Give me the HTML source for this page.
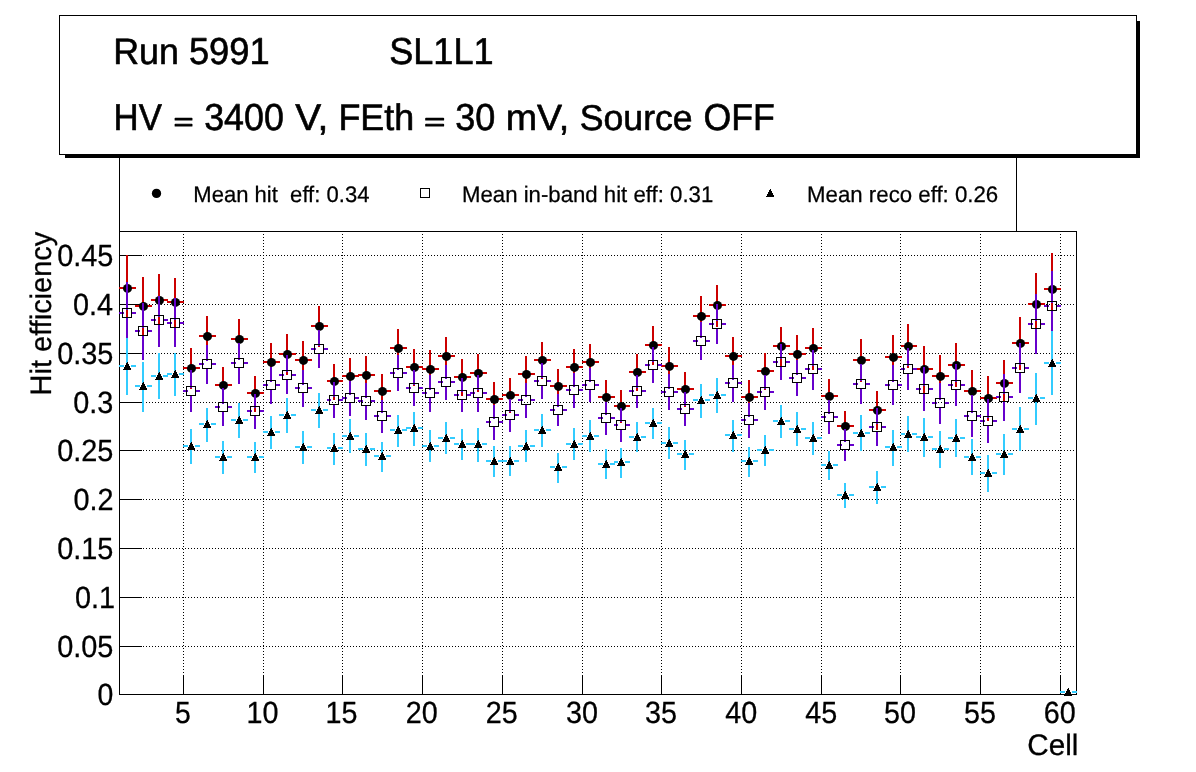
<!DOCTYPE html>
<html lang="en"><head><meta charset="utf-8"><title>Hit efficiency - Run 5991 SL1L1</title>
<style>
html,body{margin:0;padding:0;background:#fff;}
body{width:1196px;height:772px;overflow:hidden;}
svg{display:block;}
text{font-family:"Liberation Sans", sans-serif;fill:#000;text-rendering:geometricPrecision;}
.ce{shape-rendering:crispEdges;}
</style></head><body>
<svg width="1196" height="772" viewBox="0 0 1196 772">
<rect x="0" y="0" width="1196" height="772" fill="#fff"/>

<g class="ce">
<rect x="119" y="100" width="1" height="132" fill="#000"/>
<rect x="1016" y="100" width="1" height="132" fill="#000"/>
<rect x="119" y="231" width="958" height="1" fill="#000"/>
<rect x="119" y="694" width="958" height="1" fill="#000"/>
<rect x="119" y="231" width="1" height="464" fill="#000"/>
<rect x="1076" y="231" width="1" height="464" fill="#000"/>
<line x1="119" x2="1076" y1="255.5" y2="255.5" stroke="#000" stroke-width="1" stroke-dasharray="1 2" stroke-dashoffset="0"/>
<rect x="119" y="255" width="23" height="1" fill="#000"/>
<line x1="119" x2="1076" y1="304.5" y2="304.5" stroke="#000" stroke-width="1" stroke-dasharray="1 2" stroke-dashoffset="0"/>
<rect x="119" y="304" width="23" height="1" fill="#000"/>
<line x1="119" x2="1076" y1="353.5" y2="353.5" stroke="#000" stroke-width="1" stroke-dasharray="1 2" stroke-dashoffset="0"/>
<rect x="119" y="353" width="23" height="1" fill="#000"/>
<line x1="119" x2="1076" y1="402.5" y2="402.5" stroke="#000" stroke-width="1" stroke-dasharray="1 2" stroke-dashoffset="0"/>
<rect x="119" y="402" width="23" height="1" fill="#000"/>
<line x1="119" x2="1076" y1="450.5" y2="450.5" stroke="#000" stroke-width="1" stroke-dasharray="1 2" stroke-dashoffset="0"/>
<rect x="119" y="450" width="23" height="1" fill="#000"/>
<line x1="119" x2="1076" y1="499.5" y2="499.5" stroke="#000" stroke-width="1" stroke-dasharray="1 2" stroke-dashoffset="0"/>
<rect x="119" y="499" width="23" height="1" fill="#000"/>
<line x1="119" x2="1076" y1="548.5" y2="548.5" stroke="#000" stroke-width="1" stroke-dasharray="1 2" stroke-dashoffset="0"/>
<rect x="119" y="548" width="23" height="1" fill="#000"/>
<line x1="119" x2="1076" y1="597.5" y2="597.5" stroke="#000" stroke-width="1" stroke-dasharray="1 2" stroke-dashoffset="0"/>
<rect x="119" y="597" width="23" height="1" fill="#000"/>
<line x1="119" x2="1076" y1="646.5" y2="646.5" stroke="#000" stroke-width="1" stroke-dasharray="1 2" stroke-dashoffset="0"/>
<rect x="119" y="646" width="23" height="1" fill="#000"/>
<line x1="183.5" x2="183.5" y1="231" y2="694" stroke="#000" stroke-width="1" stroke-dasharray="1 2" stroke-dashoffset="0"/>
<rect x="183" y="675" width="1" height="20" fill="#000"/>
<line x1="263.5" x2="263.5" y1="231" y2="694" stroke="#000" stroke-width="1" stroke-dasharray="1 2" stroke-dashoffset="0"/>
<rect x="263" y="675" width="1" height="20" fill="#000"/>
<line x1="342.5" x2="342.5" y1="231" y2="694" stroke="#000" stroke-width="1" stroke-dasharray="1 2" stroke-dashoffset="0"/>
<rect x="342" y="675" width="1" height="20" fill="#000"/>
<line x1="422.5" x2="422.5" y1="231" y2="694" stroke="#000" stroke-width="1" stroke-dasharray="1 2" stroke-dashoffset="0"/>
<rect x="422" y="675" width="1" height="20" fill="#000"/>
<line x1="502.5" x2="502.5" y1="231" y2="694" stroke="#000" stroke-width="1" stroke-dasharray="1 2" stroke-dashoffset="0"/>
<rect x="502" y="675" width="1" height="20" fill="#000"/>
<line x1="582.5" x2="582.5" y1="231" y2="694" stroke="#000" stroke-width="1" stroke-dasharray="1 2" stroke-dashoffset="0"/>
<rect x="582" y="675" width="1" height="20" fill="#000"/>
<line x1="661.5" x2="661.5" y1="231" y2="694" stroke="#000" stroke-width="1" stroke-dasharray="1 2" stroke-dashoffset="0"/>
<rect x="661" y="675" width="1" height="20" fill="#000"/>
<line x1="741.5" x2="741.5" y1="231" y2="694" stroke="#000" stroke-width="1" stroke-dasharray="1 2" stroke-dashoffset="0"/>
<rect x="741" y="675" width="1" height="20" fill="#000"/>
<line x1="821.5" x2="821.5" y1="231" y2="694" stroke="#000" stroke-width="1" stroke-dasharray="1 2" stroke-dashoffset="0"/>
<rect x="821" y="675" width="1" height="20" fill="#000"/>
<line x1="900.5" x2="900.5" y1="231" y2="694" stroke="#000" stroke-width="1" stroke-dasharray="1 2" stroke-dashoffset="0"/>
<rect x="900" y="675" width="1" height="20" fill="#000"/>
<line x1="980.5" x2="980.5" y1="231" y2="694" stroke="#000" stroke-width="1" stroke-dasharray="1 2" stroke-dashoffset="0"/>
<rect x="980" y="675" width="1" height="20" fill="#000"/>
<line x1="1060.5" x2="1060.5" y1="231" y2="694" stroke="#000" stroke-width="1" stroke-dasharray="1 2" stroke-dashoffset="0"/>
<rect x="1060" y="675" width="1" height="20" fill="#000"/>
</g>
<g class="ce">
<rect x="119" y="287" width="5" height="2" fill="#cc0000"/>
<rect x="131" y="287" width="5" height="2" fill="#cc0000"/>
<rect x="126" y="255" width="2" height="30" fill="#cc0000"/>
<rect x="126" y="292" width="2" height="30" fill="#cc0000"/>
<rect x="135" y="305" width="5" height="2" fill="#cc0000"/>
<rect x="147" y="305" width="5" height="2" fill="#cc0000"/>
<rect x="142" y="277" width="2" height="26" fill="#cc0000"/>
<rect x="142" y="310" width="2" height="26" fill="#cc0000"/>
<rect x="151" y="299" width="5" height="2" fill="#cc0000"/>
<rect x="163" y="299" width="5" height="2" fill="#cc0000"/>
<rect x="158" y="274" width="2" height="23" fill="#cc0000"/>
<rect x="158" y="304" width="2" height="22" fill="#cc0000"/>
<rect x="167" y="301" width="5" height="2" fill="#cc0000"/>
<rect x="179" y="301" width="5" height="2" fill="#cc0000"/>
<rect x="174" y="278" width="2" height="21" fill="#cc0000"/>
<rect x="174" y="306" width="2" height="22" fill="#cc0000"/>
<rect x="183" y="367" width="5" height="2" fill="#cc0000"/>
<rect x="195" y="367" width="5" height="2" fill="#cc0000"/>
<rect x="190" y="348" width="2" height="17" fill="#cc0000"/>
<rect x="190" y="372" width="2" height="17" fill="#cc0000"/>
<rect x="199" y="335" width="5" height="2" fill="#cc0000"/>
<rect x="211" y="335" width="5" height="2" fill="#cc0000"/>
<rect x="206" y="316" width="2" height="17" fill="#cc0000"/>
<rect x="206" y="340" width="2" height="17" fill="#cc0000"/>
<rect x="215" y="384" width="5" height="2" fill="#cc0000"/>
<rect x="227" y="384" width="5" height="2" fill="#cc0000"/>
<rect x="222" y="367" width="2" height="15" fill="#cc0000"/>
<rect x="222" y="389" width="2" height="15" fill="#cc0000"/>
<rect x="231" y="338" width="5" height="2" fill="#cc0000"/>
<rect x="243" y="338" width="5" height="2" fill="#cc0000"/>
<rect x="238" y="319" width="2" height="17" fill="#cc0000"/>
<rect x="238" y="343" width="2" height="17" fill="#cc0000"/>
<rect x="247" y="392" width="5" height="2" fill="#cc0000"/>
<rect x="259" y="392" width="5" height="2" fill="#cc0000"/>
<rect x="254" y="376" width="2" height="14" fill="#cc0000"/>
<rect x="254" y="397" width="2" height="15" fill="#cc0000"/>
<rect x="263" y="361" width="5" height="2" fill="#cc0000"/>
<rect x="275" y="361" width="5" height="2" fill="#cc0000"/>
<rect x="270" y="343" width="2" height="16" fill="#cc0000"/>
<rect x="270" y="366" width="2" height="16" fill="#cc0000"/>
<rect x="279" y="353" width="5" height="2" fill="#cc0000"/>
<rect x="291" y="353" width="5" height="2" fill="#cc0000"/>
<rect x="286" y="334" width="2" height="17" fill="#cc0000"/>
<rect x="286" y="358" width="2" height="17" fill="#cc0000"/>
<rect x="295" y="359" width="5" height="2" fill="#cc0000"/>
<rect x="307" y="359" width="5" height="2" fill="#cc0000"/>
<rect x="302" y="341" width="2" height="16" fill="#cc0000"/>
<rect x="302" y="364" width="2" height="16" fill="#cc0000"/>
<rect x="311" y="325" width="5" height="2" fill="#cc0000"/>
<rect x="323" y="325" width="5" height="2" fill="#cc0000"/>
<rect x="318" y="306" width="2" height="17" fill="#cc0000"/>
<rect x="318" y="330" width="2" height="17" fill="#cc0000"/>
<rect x="327" y="380" width="4" height="2" fill="#cc0000"/>
<rect x="338" y="380" width="5" height="2" fill="#cc0000"/>
<rect x="333" y="364" width="2" height="14" fill="#cc0000"/>
<rect x="333" y="385" width="2" height="15" fill="#cc0000"/>
<rect x="342" y="375" width="5" height="2" fill="#cc0000"/>
<rect x="354" y="375" width="5" height="2" fill="#cc0000"/>
<rect x="349" y="358" width="2" height="15" fill="#cc0000"/>
<rect x="349" y="380" width="2" height="15" fill="#cc0000"/>
<rect x="358" y="374" width="5" height="2" fill="#cc0000"/>
<rect x="370" y="374" width="5" height="2" fill="#cc0000"/>
<rect x="365" y="356" width="2" height="16" fill="#cc0000"/>
<rect x="365" y="379" width="2" height="17" fill="#cc0000"/>
<rect x="374" y="390" width="5" height="2" fill="#cc0000"/>
<rect x="386" y="390" width="5" height="2" fill="#cc0000"/>
<rect x="381" y="374" width="2" height="14" fill="#cc0000"/>
<rect x="381" y="395" width="2" height="14" fill="#cc0000"/>
<rect x="390" y="347" width="5" height="2" fill="#cc0000"/>
<rect x="402" y="347" width="5" height="2" fill="#cc0000"/>
<rect x="397" y="329" width="2" height="16" fill="#cc0000"/>
<rect x="397" y="352" width="2" height="16" fill="#cc0000"/>
<rect x="406" y="366" width="5" height="2" fill="#cc0000"/>
<rect x="418" y="366" width="5" height="2" fill="#cc0000"/>
<rect x="413" y="349" width="2" height="15" fill="#cc0000"/>
<rect x="413" y="371" width="2" height="15" fill="#cc0000"/>
<rect x="422" y="368" width="5" height="2" fill="#cc0000"/>
<rect x="434" y="368" width="5" height="2" fill="#cc0000"/>
<rect x="429" y="350" width="2" height="16" fill="#cc0000"/>
<rect x="429" y="373" width="2" height="16" fill="#cc0000"/>
<rect x="438" y="355" width="5" height="2" fill="#cc0000"/>
<rect x="450" y="355" width="5" height="2" fill="#cc0000"/>
<rect x="445" y="337" width="2" height="16" fill="#cc0000"/>
<rect x="445" y="360" width="2" height="16" fill="#cc0000"/>
<rect x="454" y="376" width="5" height="2" fill="#cc0000"/>
<rect x="466" y="376" width="5" height="2" fill="#cc0000"/>
<rect x="461" y="359" width="2" height="15" fill="#cc0000"/>
<rect x="461" y="381" width="2" height="15" fill="#cc0000"/>
<rect x="470" y="372" width="5" height="2" fill="#cc0000"/>
<rect x="482" y="372" width="5" height="2" fill="#cc0000"/>
<rect x="477" y="354" width="2" height="16" fill="#cc0000"/>
<rect x="477" y="377" width="2" height="15" fill="#cc0000"/>
<rect x="486" y="398" width="5" height="2" fill="#cc0000"/>
<rect x="498" y="398" width="5" height="2" fill="#cc0000"/>
<rect x="493" y="382" width="2" height="14" fill="#cc0000"/>
<rect x="493" y="403" width="2" height="14" fill="#cc0000"/>
<rect x="502" y="394" width="5" height="2" fill="#cc0000"/>
<rect x="514" y="394" width="5" height="2" fill="#cc0000"/>
<rect x="509" y="378" width="2" height="14" fill="#cc0000"/>
<rect x="509" y="399" width="2" height="14" fill="#cc0000"/>
<rect x="518" y="373" width="5" height="2" fill="#cc0000"/>
<rect x="530" y="373" width="5" height="2" fill="#cc0000"/>
<rect x="525" y="356" width="2" height="15" fill="#cc0000"/>
<rect x="525" y="378" width="2" height="15" fill="#cc0000"/>
<rect x="534" y="359" width="5" height="2" fill="#cc0000"/>
<rect x="546" y="359" width="5" height="2" fill="#cc0000"/>
<rect x="541" y="342" width="2" height="15" fill="#cc0000"/>
<rect x="541" y="364" width="2" height="15" fill="#cc0000"/>
<rect x="550" y="385" width="5" height="2" fill="#cc0000"/>
<rect x="562" y="385" width="5" height="2" fill="#cc0000"/>
<rect x="557" y="369" width="2" height="14" fill="#cc0000"/>
<rect x="557" y="390" width="2" height="14" fill="#cc0000"/>
<rect x="566" y="366" width="5" height="2" fill="#cc0000"/>
<rect x="578" y="366" width="5" height="2" fill="#cc0000"/>
<rect x="573" y="349" width="2" height="15" fill="#cc0000"/>
<rect x="573" y="371" width="2" height="15" fill="#cc0000"/>
<rect x="582" y="361" width="5" height="2" fill="#cc0000"/>
<rect x="594" y="361" width="5" height="2" fill="#cc0000"/>
<rect x="589" y="344" width="2" height="15" fill="#cc0000"/>
<rect x="589" y="366" width="2" height="15" fill="#cc0000"/>
<rect x="598" y="396" width="5" height="2" fill="#cc0000"/>
<rect x="610" y="396" width="5" height="2" fill="#cc0000"/>
<rect x="605" y="380" width="2" height="14" fill="#cc0000"/>
<rect x="605" y="401" width="2" height="14" fill="#cc0000"/>
<rect x="614" y="405" width="4" height="2" fill="#cc0000"/>
<rect x="625" y="405" width="5" height="2" fill="#cc0000"/>
<rect x="620" y="390" width="2" height="13" fill="#cc0000"/>
<rect x="620" y="410" width="2" height="13" fill="#cc0000"/>
<rect x="629" y="371" width="5" height="2" fill="#cc0000"/>
<rect x="641" y="371" width="5" height="2" fill="#cc0000"/>
<rect x="636" y="354" width="2" height="15" fill="#cc0000"/>
<rect x="636" y="376" width="2" height="15" fill="#cc0000"/>
<rect x="645" y="344" width="5" height="2" fill="#cc0000"/>
<rect x="657" y="344" width="5" height="2" fill="#cc0000"/>
<rect x="652" y="326" width="2" height="16" fill="#cc0000"/>
<rect x="652" y="349" width="2" height="16" fill="#cc0000"/>
<rect x="661" y="365" width="5" height="2" fill="#cc0000"/>
<rect x="673" y="365" width="5" height="2" fill="#cc0000"/>
<rect x="668" y="347" width="2" height="16" fill="#cc0000"/>
<rect x="668" y="370" width="2" height="16" fill="#cc0000"/>
<rect x="677" y="388" width="5" height="2" fill="#cc0000"/>
<rect x="689" y="388" width="5" height="2" fill="#cc0000"/>
<rect x="684" y="372" width="2" height="14" fill="#cc0000"/>
<rect x="684" y="393" width="2" height="14" fill="#cc0000"/>
<rect x="693" y="315" width="5" height="2" fill="#cc0000"/>
<rect x="705" y="315" width="5" height="2" fill="#cc0000"/>
<rect x="700" y="296" width="2" height="17" fill="#cc0000"/>
<rect x="700" y="320" width="2" height="18" fill="#cc0000"/>
<rect x="709" y="304" width="5" height="2" fill="#cc0000"/>
<rect x="721" y="304" width="5" height="2" fill="#cc0000"/>
<rect x="716" y="285" width="2" height="17" fill="#cc0000"/>
<rect x="716" y="309" width="2" height="18" fill="#cc0000"/>
<rect x="725" y="355" width="5" height="2" fill="#cc0000"/>
<rect x="737" y="355" width="5" height="2" fill="#cc0000"/>
<rect x="732" y="337" width="2" height="16" fill="#cc0000"/>
<rect x="732" y="360" width="2" height="16" fill="#cc0000"/>
<rect x="741" y="396" width="5" height="2" fill="#cc0000"/>
<rect x="753" y="396" width="5" height="2" fill="#cc0000"/>
<rect x="748" y="380" width="2" height="14" fill="#cc0000"/>
<rect x="748" y="401" width="2" height="14" fill="#cc0000"/>
<rect x="757" y="370" width="5" height="2" fill="#cc0000"/>
<rect x="769" y="370" width="5" height="2" fill="#cc0000"/>
<rect x="764" y="353" width="2" height="15" fill="#cc0000"/>
<rect x="764" y="375" width="2" height="15" fill="#cc0000"/>
<rect x="773" y="345" width="5" height="2" fill="#cc0000"/>
<rect x="785" y="345" width="5" height="2" fill="#cc0000"/>
<rect x="780" y="327" width="2" height="16" fill="#cc0000"/>
<rect x="780" y="350" width="2" height="16" fill="#cc0000"/>
<rect x="789" y="353" width="5" height="2" fill="#cc0000"/>
<rect x="801" y="353" width="5" height="2" fill="#cc0000"/>
<rect x="796" y="335" width="2" height="16" fill="#cc0000"/>
<rect x="796" y="358" width="2" height="16" fill="#cc0000"/>
<rect x="805" y="347" width="5" height="2" fill="#cc0000"/>
<rect x="817" y="347" width="5" height="2" fill="#cc0000"/>
<rect x="812" y="328" width="2" height="17" fill="#cc0000"/>
<rect x="812" y="352" width="2" height="18" fill="#cc0000"/>
<rect x="821" y="395" width="5" height="2" fill="#cc0000"/>
<rect x="833" y="395" width="5" height="2" fill="#cc0000"/>
<rect x="828" y="379" width="2" height="14" fill="#cc0000"/>
<rect x="828" y="400" width="2" height="14" fill="#cc0000"/>
<rect x="837" y="425" width="5" height="2" fill="#cc0000"/>
<rect x="849" y="425" width="5" height="2" fill="#cc0000"/>
<rect x="844" y="411" width="2" height="12" fill="#cc0000"/>
<rect x="844" y="430" width="2" height="12" fill="#cc0000"/>
<rect x="853" y="359" width="5" height="2" fill="#cc0000"/>
<rect x="865" y="359" width="5" height="2" fill="#cc0000"/>
<rect x="860" y="339" width="2" height="18" fill="#cc0000"/>
<rect x="860" y="364" width="2" height="18" fill="#cc0000"/>
<rect x="869" y="409" width="5" height="2" fill="#cc0000"/>
<rect x="881" y="409" width="5" height="2" fill="#cc0000"/>
<rect x="876" y="391" width="2" height="16" fill="#cc0000"/>
<rect x="876" y="414" width="2" height="16" fill="#cc0000"/>
<rect x="885" y="356" width="5" height="2" fill="#cc0000"/>
<rect x="897" y="356" width="5" height="2" fill="#cc0000"/>
<rect x="892" y="335" width="2" height="19" fill="#cc0000"/>
<rect x="892" y="361" width="2" height="19" fill="#cc0000"/>
<rect x="901" y="345" width="4" height="2" fill="#cc0000"/>
<rect x="912" y="345" width="5" height="2" fill="#cc0000"/>
<rect x="907" y="324" width="2" height="19" fill="#cc0000"/>
<rect x="907" y="350" width="2" height="18" fill="#cc0000"/>
<rect x="916" y="368" width="5" height="2" fill="#cc0000"/>
<rect x="928" y="368" width="5" height="2" fill="#cc0000"/>
<rect x="923" y="346" width="2" height="20" fill="#cc0000"/>
<rect x="923" y="373" width="2" height="20" fill="#cc0000"/>
<rect x="932" y="375" width="5" height="2" fill="#cc0000"/>
<rect x="944" y="375" width="5" height="2" fill="#cc0000"/>
<rect x="939" y="355" width="2" height="18" fill="#cc0000"/>
<rect x="939" y="380" width="2" height="18" fill="#cc0000"/>
<rect x="948" y="364" width="5" height="2" fill="#cc0000"/>
<rect x="960" y="364" width="5" height="2" fill="#cc0000"/>
<rect x="955" y="343" width="2" height="19" fill="#cc0000"/>
<rect x="955" y="369" width="2" height="18" fill="#cc0000"/>
<rect x="964" y="390" width="5" height="2" fill="#cc0000"/>
<rect x="976" y="390" width="5" height="2" fill="#cc0000"/>
<rect x="971" y="370" width="2" height="18" fill="#cc0000"/>
<rect x="971" y="395" width="2" height="17" fill="#cc0000"/>
<rect x="980" y="397" width="5" height="2" fill="#cc0000"/>
<rect x="992" y="397" width="5" height="2" fill="#cc0000"/>
<rect x="987" y="376" width="2" height="19" fill="#cc0000"/>
<rect x="987" y="402" width="2" height="19" fill="#cc0000"/>
<rect x="996" y="382" width="5" height="2" fill="#cc0000"/>
<rect x="1008" y="382" width="5" height="2" fill="#cc0000"/>
<rect x="1003" y="360" width="2" height="20" fill="#cc0000"/>
<rect x="1003" y="387" width="2" height="19" fill="#cc0000"/>
<rect x="1012" y="342" width="5" height="2" fill="#cc0000"/>
<rect x="1024" y="342" width="5" height="2" fill="#cc0000"/>
<rect x="1019" y="317" width="2" height="23" fill="#cc0000"/>
<rect x="1019" y="347" width="2" height="23" fill="#cc0000"/>
<rect x="1028" y="303" width="5" height="2" fill="#cc0000"/>
<rect x="1040" y="303" width="5" height="2" fill="#cc0000"/>
<rect x="1035" y="273" width="2" height="28" fill="#cc0000"/>
<rect x="1035" y="308" width="2" height="27" fill="#cc0000"/>
<rect x="1044" y="288" width="5" height="2" fill="#cc0000"/>
<rect x="1056" y="288" width="5" height="2" fill="#cc0000"/>
<rect x="1051" y="253" width="2" height="33" fill="#cc0000"/>
<rect x="1051" y="293" width="2" height="33" fill="#cc0000"/>
</g><g>
<circle cx="127.5" cy="288.4" r="4.5" fill="#000"/>
<circle cx="143.5" cy="306.4" r="4.5" fill="#000"/>
<circle cx="159.5" cy="300.4" r="4.5" fill="#000"/>
<circle cx="175.5" cy="302.4" r="4.5" fill="#000"/>
<circle cx="191.5" cy="368.4" r="4.5" fill="#000"/>
<circle cx="207.5" cy="336.4" r="4.5" fill="#000"/>
<circle cx="223.5" cy="385.4" r="4.5" fill="#000"/>
<circle cx="239.5" cy="339.4" r="4.5" fill="#000"/>
<circle cx="255.5" cy="393.4" r="4.5" fill="#000"/>
<circle cx="271.5" cy="362.4" r="4.5" fill="#000"/>
<circle cx="287.5" cy="354.4" r="4.5" fill="#000"/>
<circle cx="303.5" cy="360.4" r="4.5" fill="#000"/>
<circle cx="319.5" cy="326.4" r="4.5" fill="#000"/>
<circle cx="334.5" cy="381.4" r="4.5" fill="#000"/>
<circle cx="350.5" cy="376.4" r="4.5" fill="#000"/>
<circle cx="366.5" cy="375.4" r="4.5" fill="#000"/>
<circle cx="382.5" cy="391.4" r="4.5" fill="#000"/>
<circle cx="398.5" cy="348.4" r="4.5" fill="#000"/>
<circle cx="414.5" cy="367.4" r="4.5" fill="#000"/>
<circle cx="430.5" cy="369.4" r="4.5" fill="#000"/>
<circle cx="446.5" cy="356.4" r="4.5" fill="#000"/>
<circle cx="462.5" cy="377.4" r="4.5" fill="#000"/>
<circle cx="478.5" cy="373.4" r="4.5" fill="#000"/>
<circle cx="494.5" cy="399.4" r="4.5" fill="#000"/>
<circle cx="510.5" cy="395.4" r="4.5" fill="#000"/>
<circle cx="526.5" cy="374.4" r="4.5" fill="#000"/>
<circle cx="542.5" cy="360.4" r="4.5" fill="#000"/>
<circle cx="558.5" cy="386.4" r="4.5" fill="#000"/>
<circle cx="574.5" cy="367.4" r="4.5" fill="#000"/>
<circle cx="590.5" cy="362.4" r="4.5" fill="#000"/>
<circle cx="606.5" cy="397.4" r="4.5" fill="#000"/>
<circle cx="621.5" cy="406.4" r="4.5" fill="#000"/>
<circle cx="637.5" cy="372.4" r="4.5" fill="#000"/>
<circle cx="653.5" cy="345.4" r="4.5" fill="#000"/>
<circle cx="669.5" cy="366.4" r="4.5" fill="#000"/>
<circle cx="685.5" cy="389.4" r="4.5" fill="#000"/>
<circle cx="701.5" cy="316.4" r="4.5" fill="#000"/>
<circle cx="717.5" cy="305.4" r="4.5" fill="#000"/>
<circle cx="733.5" cy="356.4" r="4.5" fill="#000"/>
<circle cx="749.5" cy="397.4" r="4.5" fill="#000"/>
<circle cx="765.5" cy="371.4" r="4.5" fill="#000"/>
<circle cx="781.5" cy="346.4" r="4.5" fill="#000"/>
<circle cx="797.5" cy="354.4" r="4.5" fill="#000"/>
<circle cx="813.5" cy="348.4" r="4.5" fill="#000"/>
<circle cx="829.5" cy="396.4" r="4.5" fill="#000"/>
<circle cx="845.5" cy="426.4" r="4.5" fill="#000"/>
<circle cx="861.5" cy="360.4" r="4.5" fill="#000"/>
<circle cx="877.5" cy="410.4" r="4.5" fill="#000"/>
<circle cx="893.5" cy="357.4" r="4.5" fill="#000"/>
<circle cx="908.5" cy="346.4" r="4.5" fill="#000"/>
<circle cx="924.5" cy="369.4" r="4.5" fill="#000"/>
<circle cx="940.5" cy="376.4" r="4.5" fill="#000"/>
<circle cx="956.5" cy="365.4" r="4.5" fill="#000"/>
<circle cx="972.5" cy="391.4" r="4.5" fill="#000"/>
<circle cx="988.5" cy="398.4" r="4.5" fill="#000"/>
<circle cx="1004.5" cy="383.4" r="4.5" fill="#000"/>
<circle cx="1020.5" cy="343.4" r="4.5" fill="#000"/>
<circle cx="1036.5" cy="304.4" r="4.5" fill="#000"/>
<circle cx="1052.5" cy="289.4" r="4.5" fill="#000"/>
</g>
<g class="ce">
<rect x="119" y="312" width="5" height="2" fill="#6600cc"/>
<rect x="131" y="312" width="5" height="2" fill="#6600cc"/>
<rect x="126" y="282" width="2" height="28" fill="#6600cc"/>
<rect x="126" y="317" width="2" height="27" fill="#6600cc"/>
<rect x="135" y="330" width="5" height="2" fill="#6600cc"/>
<rect x="147" y="330" width="5" height="2" fill="#6600cc"/>
<rect x="142" y="303" width="2" height="25" fill="#6600cc"/>
<rect x="142" y="335" width="2" height="25" fill="#6600cc"/>
<rect x="151" y="319" width="5" height="2" fill="#6600cc"/>
<rect x="163" y="319" width="5" height="2" fill="#6600cc"/>
<rect x="158" y="296" width="2" height="21" fill="#6600cc"/>
<rect x="158" y="324" width="2" height="23" fill="#6600cc"/>
<rect x="167" y="322" width="5" height="2" fill="#6600cc"/>
<rect x="179" y="322" width="5" height="2" fill="#6600cc"/>
<rect x="174" y="298" width="2" height="22" fill="#6600cc"/>
<rect x="174" y="327" width="2" height="20" fill="#6600cc"/>
<rect x="183" y="390" width="5" height="2" fill="#6600cc"/>
<rect x="195" y="390" width="5" height="2" fill="#6600cc"/>
<rect x="190" y="370" width="2" height="18" fill="#6600cc"/>
<rect x="190" y="395" width="2" height="17" fill="#6600cc"/>
<rect x="199" y="363" width="5" height="2" fill="#6600cc"/>
<rect x="211" y="363" width="5" height="2" fill="#6600cc"/>
<rect x="206" y="345" width="2" height="16" fill="#6600cc"/>
<rect x="206" y="368" width="2" height="16" fill="#6600cc"/>
<rect x="215" y="406" width="5" height="2" fill="#6600cc"/>
<rect x="227" y="406" width="5" height="2" fill="#6600cc"/>
<rect x="222" y="388" width="2" height="16" fill="#6600cc"/>
<rect x="222" y="411" width="2" height="15" fill="#6600cc"/>
<rect x="231" y="362" width="5" height="2" fill="#6600cc"/>
<rect x="243" y="362" width="5" height="2" fill="#6600cc"/>
<rect x="238" y="343" width="2" height="17" fill="#6600cc"/>
<rect x="238" y="367" width="2" height="17" fill="#6600cc"/>
<rect x="247" y="410" width="5" height="2" fill="#6600cc"/>
<rect x="259" y="410" width="5" height="2" fill="#6600cc"/>
<rect x="254" y="394" width="2" height="14" fill="#6600cc"/>
<rect x="254" y="415" width="2" height="14" fill="#6600cc"/>
<rect x="263" y="384" width="5" height="2" fill="#6600cc"/>
<rect x="275" y="384" width="5" height="2" fill="#6600cc"/>
<rect x="270" y="367" width="2" height="15" fill="#6600cc"/>
<rect x="270" y="389" width="2" height="15" fill="#6600cc"/>
<rect x="279" y="374" width="5" height="2" fill="#6600cc"/>
<rect x="291" y="374" width="5" height="2" fill="#6600cc"/>
<rect x="286" y="355" width="2" height="17" fill="#6600cc"/>
<rect x="286" y="379" width="2" height="15" fill="#6600cc"/>
<rect x="295" y="387" width="5" height="2" fill="#6600cc"/>
<rect x="307" y="387" width="5" height="2" fill="#6600cc"/>
<rect x="302" y="370" width="2" height="15" fill="#6600cc"/>
<rect x="302" y="392" width="2" height="15" fill="#6600cc"/>
<rect x="311" y="348" width="5" height="2" fill="#6600cc"/>
<rect x="323" y="348" width="5" height="2" fill="#6600cc"/>
<rect x="318" y="330" width="2" height="16" fill="#6600cc"/>
<rect x="318" y="353" width="2" height="15" fill="#6600cc"/>
<rect x="327" y="399" width="4" height="2" fill="#6600cc"/>
<rect x="338" y="399" width="5" height="2" fill="#6600cc"/>
<rect x="333" y="382" width="2" height="15" fill="#6600cc"/>
<rect x="333" y="404" width="2" height="14" fill="#6600cc"/>
<rect x="342" y="397" width="5" height="2" fill="#6600cc"/>
<rect x="354" y="397" width="5" height="2" fill="#6600cc"/>
<rect x="349" y="381" width="2" height="14" fill="#6600cc"/>
<rect x="349" y="402" width="2" height="14" fill="#6600cc"/>
<rect x="358" y="400" width="5" height="2" fill="#6600cc"/>
<rect x="370" y="400" width="5" height="2" fill="#6600cc"/>
<rect x="365" y="383" width="2" height="15" fill="#6600cc"/>
<rect x="365" y="405" width="2" height="15" fill="#6600cc"/>
<rect x="374" y="415" width="5" height="2" fill="#6600cc"/>
<rect x="386" y="415" width="5" height="2" fill="#6600cc"/>
<rect x="381" y="400" width="2" height="13" fill="#6600cc"/>
<rect x="381" y="420" width="2" height="13" fill="#6600cc"/>
<rect x="390" y="372" width="5" height="2" fill="#6600cc"/>
<rect x="402" y="372" width="5" height="2" fill="#6600cc"/>
<rect x="397" y="355" width="2" height="15" fill="#6600cc"/>
<rect x="397" y="377" width="2" height="14" fill="#6600cc"/>
<rect x="406" y="387" width="5" height="2" fill="#6600cc"/>
<rect x="418" y="387" width="5" height="2" fill="#6600cc"/>
<rect x="413" y="370" width="2" height="15" fill="#6600cc"/>
<rect x="413" y="392" width="2" height="14" fill="#6600cc"/>
<rect x="422" y="392" width="5" height="2" fill="#6600cc"/>
<rect x="434" y="392" width="5" height="2" fill="#6600cc"/>
<rect x="429" y="375" width="2" height="15" fill="#6600cc"/>
<rect x="429" y="397" width="2" height="15" fill="#6600cc"/>
<rect x="438" y="381" width="5" height="2" fill="#6600cc"/>
<rect x="450" y="381" width="5" height="2" fill="#6600cc"/>
<rect x="445" y="365" width="2" height="14" fill="#6600cc"/>
<rect x="445" y="386" width="2" height="14" fill="#6600cc"/>
<rect x="454" y="394" width="5" height="2" fill="#6600cc"/>
<rect x="466" y="394" width="5" height="2" fill="#6600cc"/>
<rect x="461" y="378" width="2" height="14" fill="#6600cc"/>
<rect x="461" y="399" width="2" height="13" fill="#6600cc"/>
<rect x="470" y="392" width="5" height="2" fill="#6600cc"/>
<rect x="482" y="392" width="5" height="2" fill="#6600cc"/>
<rect x="477" y="375" width="2" height="15" fill="#6600cc"/>
<rect x="477" y="397" width="2" height="15" fill="#6600cc"/>
<rect x="486" y="421" width="5" height="2" fill="#6600cc"/>
<rect x="498" y="421" width="5" height="2" fill="#6600cc"/>
<rect x="493" y="405" width="2" height="14" fill="#6600cc"/>
<rect x="493" y="426" width="2" height="14" fill="#6600cc"/>
<rect x="502" y="414" width="5" height="2" fill="#6600cc"/>
<rect x="514" y="414" width="5" height="2" fill="#6600cc"/>
<rect x="509" y="399" width="2" height="13" fill="#6600cc"/>
<rect x="509" y="419" width="2" height="13" fill="#6600cc"/>
<rect x="518" y="399" width="5" height="2" fill="#6600cc"/>
<rect x="530" y="399" width="5" height="2" fill="#6600cc"/>
<rect x="525" y="383" width="2" height="14" fill="#6600cc"/>
<rect x="525" y="404" width="2" height="14" fill="#6600cc"/>
<rect x="534" y="380" width="5" height="2" fill="#6600cc"/>
<rect x="546" y="380" width="5" height="2" fill="#6600cc"/>
<rect x="541" y="363" width="2" height="15" fill="#6600cc"/>
<rect x="541" y="385" width="2" height="14" fill="#6600cc"/>
<rect x="550" y="409" width="5" height="2" fill="#6600cc"/>
<rect x="562" y="409" width="5" height="2" fill="#6600cc"/>
<rect x="557" y="394" width="2" height="13" fill="#6600cc"/>
<rect x="557" y="414" width="2" height="12" fill="#6600cc"/>
<rect x="566" y="389" width="5" height="2" fill="#6600cc"/>
<rect x="578" y="389" width="5" height="2" fill="#6600cc"/>
<rect x="573" y="373" width="2" height="14" fill="#6600cc"/>
<rect x="573" y="394" width="2" height="14" fill="#6600cc"/>
<rect x="582" y="384" width="5" height="2" fill="#6600cc"/>
<rect x="594" y="384" width="5" height="2" fill="#6600cc"/>
<rect x="589" y="368" width="2" height="14" fill="#6600cc"/>
<rect x="589" y="389" width="2" height="13" fill="#6600cc"/>
<rect x="598" y="417" width="5" height="2" fill="#6600cc"/>
<rect x="610" y="417" width="5" height="2" fill="#6600cc"/>
<rect x="605" y="402" width="2" height="13" fill="#6600cc"/>
<rect x="605" y="422" width="2" height="13" fill="#6600cc"/>
<rect x="614" y="424" width="4" height="2" fill="#6600cc"/>
<rect x="625" y="424" width="5" height="2" fill="#6600cc"/>
<rect x="620" y="408" width="2" height="14" fill="#6600cc"/>
<rect x="620" y="429" width="2" height="13" fill="#6600cc"/>
<rect x="629" y="390" width="5" height="2" fill="#6600cc"/>
<rect x="641" y="390" width="5" height="2" fill="#6600cc"/>
<rect x="636" y="375" width="2" height="13" fill="#6600cc"/>
<rect x="636" y="395" width="2" height="13" fill="#6600cc"/>
<rect x="645" y="364" width="5" height="2" fill="#6600cc"/>
<rect x="657" y="364" width="5" height="2" fill="#6600cc"/>
<rect x="652" y="347" width="2" height="15" fill="#6600cc"/>
<rect x="652" y="369" width="2" height="14" fill="#6600cc"/>
<rect x="661" y="391" width="5" height="2" fill="#6600cc"/>
<rect x="673" y="391" width="5" height="2" fill="#6600cc"/>
<rect x="668" y="374" width="2" height="15" fill="#6600cc"/>
<rect x="668" y="396" width="2" height="14" fill="#6600cc"/>
<rect x="677" y="408" width="5" height="2" fill="#6600cc"/>
<rect x="689" y="408" width="5" height="2" fill="#6600cc"/>
<rect x="684" y="392" width="2" height="14" fill="#6600cc"/>
<rect x="684" y="413" width="2" height="13" fill="#6600cc"/>
<rect x="693" y="340" width="5" height="2" fill="#6600cc"/>
<rect x="705" y="340" width="5" height="2" fill="#6600cc"/>
<rect x="700" y="322" width="2" height="16" fill="#6600cc"/>
<rect x="700" y="345" width="2" height="15" fill="#6600cc"/>
<rect x="709" y="323" width="5" height="2" fill="#6600cc"/>
<rect x="721" y="323" width="5" height="2" fill="#6600cc"/>
<rect x="716" y="304" width="2" height="17" fill="#6600cc"/>
<rect x="716" y="328" width="2" height="16" fill="#6600cc"/>
<rect x="725" y="382" width="5" height="2" fill="#6600cc"/>
<rect x="737" y="382" width="5" height="2" fill="#6600cc"/>
<rect x="732" y="365" width="2" height="15" fill="#6600cc"/>
<rect x="732" y="387" width="2" height="15" fill="#6600cc"/>
<rect x="741" y="419" width="5" height="2" fill="#6600cc"/>
<rect x="753" y="419" width="5" height="2" fill="#6600cc"/>
<rect x="748" y="403" width="2" height="14" fill="#6600cc"/>
<rect x="748" y="424" width="2" height="14" fill="#6600cc"/>
<rect x="757" y="391" width="5" height="2" fill="#6600cc"/>
<rect x="769" y="391" width="5" height="2" fill="#6600cc"/>
<rect x="764" y="375" width="2" height="14" fill="#6600cc"/>
<rect x="764" y="396" width="2" height="14" fill="#6600cc"/>
<rect x="773" y="361" width="5" height="2" fill="#6600cc"/>
<rect x="785" y="361" width="5" height="2" fill="#6600cc"/>
<rect x="780" y="344" width="2" height="15" fill="#6600cc"/>
<rect x="780" y="366" width="2" height="14" fill="#6600cc"/>
<rect x="789" y="377" width="5" height="2" fill="#6600cc"/>
<rect x="801" y="377" width="5" height="2" fill="#6600cc"/>
<rect x="796" y="360" width="2" height="15" fill="#6600cc"/>
<rect x="796" y="382" width="2" height="14" fill="#6600cc"/>
<rect x="805" y="368" width="5" height="2" fill="#6600cc"/>
<rect x="817" y="368" width="5" height="2" fill="#6600cc"/>
<rect x="812" y="350" width="2" height="16" fill="#6600cc"/>
<rect x="812" y="373" width="2" height="17" fill="#6600cc"/>
<rect x="821" y="416" width="5" height="2" fill="#6600cc"/>
<rect x="833" y="416" width="5" height="2" fill="#6600cc"/>
<rect x="828" y="400" width="2" height="14" fill="#6600cc"/>
<rect x="828" y="421" width="2" height="13" fill="#6600cc"/>
<rect x="837" y="444" width="5" height="2" fill="#6600cc"/>
<rect x="849" y="444" width="5" height="2" fill="#6600cc"/>
<rect x="844" y="429" width="2" height="13" fill="#6600cc"/>
<rect x="844" y="449" width="2" height="12" fill="#6600cc"/>
<rect x="853" y="383" width="5" height="2" fill="#6600cc"/>
<rect x="865" y="383" width="5" height="2" fill="#6600cc"/>
<rect x="860" y="364" width="2" height="17" fill="#6600cc"/>
<rect x="860" y="388" width="2" height="16" fill="#6600cc"/>
<rect x="869" y="426" width="5" height="2" fill="#6600cc"/>
<rect x="881" y="426" width="5" height="2" fill="#6600cc"/>
<rect x="876" y="408" width="2" height="16" fill="#6600cc"/>
<rect x="876" y="431" width="2" height="15" fill="#6600cc"/>
<rect x="885" y="384" width="5" height="2" fill="#6600cc"/>
<rect x="897" y="384" width="5" height="2" fill="#6600cc"/>
<rect x="892" y="365" width="2" height="17" fill="#6600cc"/>
<rect x="892" y="389" width="2" height="16" fill="#6600cc"/>
<rect x="901" y="368" width="4" height="2" fill="#6600cc"/>
<rect x="912" y="368" width="5" height="2" fill="#6600cc"/>
<rect x="907" y="348" width="2" height="18" fill="#6600cc"/>
<rect x="907" y="373" width="2" height="17" fill="#6600cc"/>
<rect x="916" y="388" width="5" height="2" fill="#6600cc"/>
<rect x="928" y="388" width="5" height="2" fill="#6600cc"/>
<rect x="923" y="367" width="2" height="19" fill="#6600cc"/>
<rect x="923" y="393" width="2" height="18" fill="#6600cc"/>
<rect x="932" y="402" width="5" height="2" fill="#6600cc"/>
<rect x="944" y="402" width="5" height="2" fill="#6600cc"/>
<rect x="939" y="383" width="2" height="17" fill="#6600cc"/>
<rect x="939" y="407" width="2" height="17" fill="#6600cc"/>
<rect x="948" y="384" width="5" height="2" fill="#6600cc"/>
<rect x="960" y="384" width="5" height="2" fill="#6600cc"/>
<rect x="955" y="364" width="2" height="18" fill="#6600cc"/>
<rect x="955" y="389" width="2" height="17" fill="#6600cc"/>
<rect x="964" y="415" width="5" height="2" fill="#6600cc"/>
<rect x="976" y="415" width="5" height="2" fill="#6600cc"/>
<rect x="971" y="395" width="2" height="18" fill="#6600cc"/>
<rect x="971" y="420" width="2" height="17" fill="#6600cc"/>
<rect x="980" y="420" width="5" height="2" fill="#6600cc"/>
<rect x="992" y="420" width="5" height="2" fill="#6600cc"/>
<rect x="987" y="399" width="2" height="19" fill="#6600cc"/>
<rect x="987" y="425" width="2" height="18" fill="#6600cc"/>
<rect x="996" y="396" width="5" height="2" fill="#6600cc"/>
<rect x="1008" y="396" width="5" height="2" fill="#6600cc"/>
<rect x="1003" y="374" width="2" height="20" fill="#6600cc"/>
<rect x="1003" y="401" width="2" height="20" fill="#6600cc"/>
<rect x="1012" y="367" width="5" height="2" fill="#6600cc"/>
<rect x="1024" y="367" width="5" height="2" fill="#6600cc"/>
<rect x="1019" y="343" width="2" height="22" fill="#6600cc"/>
<rect x="1019" y="372" width="2" height="21" fill="#6600cc"/>
<rect x="1028" y="323" width="5" height="2" fill="#6600cc"/>
<rect x="1040" y="323" width="5" height="2" fill="#6600cc"/>
<rect x="1035" y="294" width="2" height="27" fill="#6600cc"/>
<rect x="1035" y="328" width="2" height="26" fill="#6600cc"/>
<rect x="1044" y="305" width="5" height="2" fill="#6600cc"/>
<rect x="1056" y="305" width="5" height="2" fill="#6600cc"/>
<rect x="1051" y="271" width="2" height="32" fill="#6600cc"/>
<rect x="1051" y="310" width="2" height="31" fill="#6600cc"/>
<rect x="122.5" y="308.5" width="9" height="9" fill="none" stroke="#000" stroke-width="1"/>
<rect x="138.5" y="326.5" width="9" height="9" fill="none" stroke="#000" stroke-width="1"/>
<rect x="154.5" y="315.5" width="9" height="9" fill="none" stroke="#000" stroke-width="1"/>
<rect x="170.5" y="318.5" width="9" height="9" fill="none" stroke="#000" stroke-width="1"/>
<rect x="186.5" y="386.5" width="9" height="9" fill="none" stroke="#000" stroke-width="1"/>
<rect x="202.5" y="359.5" width="9" height="9" fill="none" stroke="#000" stroke-width="1"/>
<rect x="218.5" y="402.5" width="9" height="9" fill="none" stroke="#000" stroke-width="1"/>
<rect x="234.5" y="358.5" width="9" height="9" fill="none" stroke="#000" stroke-width="1"/>
<rect x="250.5" y="406.5" width="9" height="9" fill="none" stroke="#000" stroke-width="1"/>
<rect x="266.5" y="380.5" width="9" height="9" fill="none" stroke="#000" stroke-width="1"/>
<rect x="282.5" y="370.5" width="9" height="9" fill="none" stroke="#000" stroke-width="1"/>
<rect x="298.5" y="383.5" width="9" height="9" fill="none" stroke="#000" stroke-width="1"/>
<rect x="314.5" y="344.5" width="9" height="9" fill="none" stroke="#000" stroke-width="1"/>
<rect x="329.5" y="395.5" width="9" height="9" fill="none" stroke="#000" stroke-width="1"/>
<rect x="345.5" y="393.5" width="9" height="9" fill="none" stroke="#000" stroke-width="1"/>
<rect x="361.5" y="396.5" width="9" height="9" fill="none" stroke="#000" stroke-width="1"/>
<rect x="377.5" y="411.5" width="9" height="9" fill="none" stroke="#000" stroke-width="1"/>
<rect x="393.5" y="368.5" width="9" height="9" fill="none" stroke="#000" stroke-width="1"/>
<rect x="409.5" y="383.5" width="9" height="9" fill="none" stroke="#000" stroke-width="1"/>
<rect x="425.5" y="388.5" width="9" height="9" fill="none" stroke="#000" stroke-width="1"/>
<rect x="441.5" y="377.5" width="9" height="9" fill="none" stroke="#000" stroke-width="1"/>
<rect x="457.5" y="390.5" width="9" height="9" fill="none" stroke="#000" stroke-width="1"/>
<rect x="473.5" y="388.5" width="9" height="9" fill="none" stroke="#000" stroke-width="1"/>
<rect x="489.5" y="417.5" width="9" height="9" fill="none" stroke="#000" stroke-width="1"/>
<rect x="505.5" y="410.5" width="9" height="9" fill="none" stroke="#000" stroke-width="1"/>
<rect x="521.5" y="395.5" width="9" height="9" fill="none" stroke="#000" stroke-width="1"/>
<rect x="537.5" y="376.5" width="9" height="9" fill="none" stroke="#000" stroke-width="1"/>
<rect x="553.5" y="405.5" width="9" height="9" fill="none" stroke="#000" stroke-width="1"/>
<rect x="569.5" y="385.5" width="9" height="9" fill="none" stroke="#000" stroke-width="1"/>
<rect x="585.5" y="380.5" width="9" height="9" fill="none" stroke="#000" stroke-width="1"/>
<rect x="601.5" y="413.5" width="9" height="9" fill="none" stroke="#000" stroke-width="1"/>
<rect x="616.5" y="420.5" width="9" height="9" fill="none" stroke="#000" stroke-width="1"/>
<rect x="632.5" y="386.5" width="9" height="9" fill="none" stroke="#000" stroke-width="1"/>
<rect x="648.5" y="360.5" width="9" height="9" fill="none" stroke="#000" stroke-width="1"/>
<rect x="664.5" y="387.5" width="9" height="9" fill="none" stroke="#000" stroke-width="1"/>
<rect x="680.5" y="404.5" width="9" height="9" fill="none" stroke="#000" stroke-width="1"/>
<rect x="696.5" y="336.5" width="9" height="9" fill="none" stroke="#000" stroke-width="1"/>
<rect x="712.5" y="319.5" width="9" height="9" fill="none" stroke="#000" stroke-width="1"/>
<rect x="728.5" y="378.5" width="9" height="9" fill="none" stroke="#000" stroke-width="1"/>
<rect x="744.5" y="415.5" width="9" height="9" fill="none" stroke="#000" stroke-width="1"/>
<rect x="760.5" y="387.5" width="9" height="9" fill="none" stroke="#000" stroke-width="1"/>
<rect x="776.5" y="357.5" width="9" height="9" fill="none" stroke="#000" stroke-width="1"/>
<rect x="792.5" y="373.5" width="9" height="9" fill="none" stroke="#000" stroke-width="1"/>
<rect x="808.5" y="364.5" width="9" height="9" fill="none" stroke="#000" stroke-width="1"/>
<rect x="824.5" y="412.5" width="9" height="9" fill="none" stroke="#000" stroke-width="1"/>
<rect x="840.5" y="440.5" width="9" height="9" fill="none" stroke="#000" stroke-width="1"/>
<rect x="856.5" y="379.5" width="9" height="9" fill="none" stroke="#000" stroke-width="1"/>
<rect x="872.5" y="422.5" width="9" height="9" fill="none" stroke="#000" stroke-width="1"/>
<rect x="888.5" y="380.5" width="9" height="9" fill="none" stroke="#000" stroke-width="1"/>
<rect x="903.5" y="364.5" width="9" height="9" fill="none" stroke="#000" stroke-width="1"/>
<rect x="919.5" y="384.5" width="9" height="9" fill="none" stroke="#000" stroke-width="1"/>
<rect x="935.5" y="398.5" width="9" height="9" fill="none" stroke="#000" stroke-width="1"/>
<rect x="951.5" y="380.5" width="9" height="9" fill="none" stroke="#000" stroke-width="1"/>
<rect x="967.5" y="411.5" width="9" height="9" fill="none" stroke="#000" stroke-width="1"/>
<rect x="983.5" y="416.5" width="9" height="9" fill="none" stroke="#000" stroke-width="1"/>
<rect x="999.5" y="392.5" width="9" height="9" fill="none" stroke="#000" stroke-width="1"/>
<rect x="1015.5" y="363.5" width="9" height="9" fill="none" stroke="#000" stroke-width="1"/>
<rect x="1031.5" y="319.5" width="9" height="9" fill="none" stroke="#000" stroke-width="1"/>
<rect x="1047.5" y="301.5" width="9" height="9" fill="none" stroke="#000" stroke-width="1"/>
</g>
<g class="ce">
<rect x="119" y="365" width="5" height="2" fill="#33ccff"/>
<rect x="131" y="365" width="5" height="2" fill="#33ccff"/>
<rect x="126" y="338" width="2" height="25" fill="#33ccff"/>
<rect x="126" y="370" width="2" height="25" fill="#33ccff"/>
<rect x="135" y="385" width="5" height="2" fill="#33ccff"/>
<rect x="147" y="385" width="5" height="2" fill="#33ccff"/>
<rect x="142" y="362" width="2" height="21" fill="#33ccff"/>
<rect x="142" y="390" width="2" height="22" fill="#33ccff"/>
<rect x="151" y="375" width="5" height="2" fill="#33ccff"/>
<rect x="163" y="375" width="5" height="2" fill="#33ccff"/>
<rect x="158" y="353" width="2" height="20" fill="#33ccff"/>
<rect x="158" y="380" width="2" height="19" fill="#33ccff"/>
<rect x="167" y="373" width="5" height="2" fill="#33ccff"/>
<rect x="179" y="373" width="5" height="2" fill="#33ccff"/>
<rect x="174" y="353" width="2" height="18" fill="#33ccff"/>
<rect x="174" y="378" width="2" height="18" fill="#33ccff"/>
<rect x="183" y="445" width="5" height="2" fill="#33ccff"/>
<rect x="195" y="445" width="5" height="2" fill="#33ccff"/>
<rect x="190" y="429" width="2" height="14" fill="#33ccff"/>
<rect x="190" y="450" width="2" height="14" fill="#33ccff"/>
<rect x="199" y="423" width="5" height="2" fill="#33ccff"/>
<rect x="211" y="423" width="5" height="2" fill="#33ccff"/>
<rect x="206" y="408" width="2" height="13" fill="#33ccff"/>
<rect x="206" y="428" width="2" height="14" fill="#33ccff"/>
<rect x="215" y="456" width="5" height="2" fill="#33ccff"/>
<rect x="227" y="456" width="5" height="2" fill="#33ccff"/>
<rect x="222" y="441" width="2" height="13" fill="#33ccff"/>
<rect x="222" y="461" width="2" height="13" fill="#33ccff"/>
<rect x="231" y="419" width="5" height="2" fill="#33ccff"/>
<rect x="243" y="419" width="5" height="2" fill="#33ccff"/>
<rect x="238" y="403" width="2" height="14" fill="#33ccff"/>
<rect x="238" y="424" width="2" height="14" fill="#33ccff"/>
<rect x="247" y="456" width="5" height="2" fill="#33ccff"/>
<rect x="259" y="456" width="5" height="2" fill="#33ccff"/>
<rect x="254" y="442" width="2" height="12" fill="#33ccff"/>
<rect x="254" y="461" width="2" height="12" fill="#33ccff"/>
<rect x="263" y="431" width="5" height="2" fill="#33ccff"/>
<rect x="275" y="431" width="5" height="2" fill="#33ccff"/>
<rect x="270" y="416" width="2" height="13" fill="#33ccff"/>
<rect x="270" y="436" width="2" height="13" fill="#33ccff"/>
<rect x="279" y="414" width="5" height="2" fill="#33ccff"/>
<rect x="291" y="414" width="5" height="2" fill="#33ccff"/>
<rect x="286" y="398" width="2" height="14" fill="#33ccff"/>
<rect x="286" y="419" width="2" height="14" fill="#33ccff"/>
<rect x="295" y="446" width="5" height="2" fill="#33ccff"/>
<rect x="307" y="446" width="5" height="2" fill="#33ccff"/>
<rect x="302" y="431" width="2" height="13" fill="#33ccff"/>
<rect x="302" y="451" width="2" height="13" fill="#33ccff"/>
<rect x="311" y="409" width="5" height="2" fill="#33ccff"/>
<rect x="323" y="409" width="5" height="2" fill="#33ccff"/>
<rect x="318" y="393" width="2" height="14" fill="#33ccff"/>
<rect x="318" y="414" width="2" height="14" fill="#33ccff"/>
<rect x="327" y="447" width="4" height="2" fill="#33ccff"/>
<rect x="338" y="447" width="5" height="2" fill="#33ccff"/>
<rect x="333" y="433" width="2" height="12" fill="#33ccff"/>
<rect x="333" y="452" width="2" height="13" fill="#33ccff"/>
<rect x="342" y="435" width="5" height="2" fill="#33ccff"/>
<rect x="354" y="435" width="5" height="2" fill="#33ccff"/>
<rect x="349" y="419" width="2" height="14" fill="#33ccff"/>
<rect x="349" y="440" width="2" height="13" fill="#33ccff"/>
<rect x="358" y="448" width="5" height="2" fill="#33ccff"/>
<rect x="370" y="448" width="5" height="2" fill="#33ccff"/>
<rect x="365" y="433" width="2" height="13" fill="#33ccff"/>
<rect x="365" y="453" width="2" height="13" fill="#33ccff"/>
<rect x="374" y="455" width="5" height="2" fill="#33ccff"/>
<rect x="386" y="455" width="5" height="2" fill="#33ccff"/>
<rect x="381" y="442" width="2" height="11" fill="#33ccff"/>
<rect x="381" y="460" width="2" height="12" fill="#33ccff"/>
<rect x="390" y="429" width="5" height="2" fill="#33ccff"/>
<rect x="402" y="429" width="5" height="2" fill="#33ccff"/>
<rect x="397" y="415" width="2" height="12" fill="#33ccff"/>
<rect x="397" y="434" width="2" height="13" fill="#33ccff"/>
<rect x="406" y="427" width="5" height="2" fill="#33ccff"/>
<rect x="418" y="427" width="5" height="2" fill="#33ccff"/>
<rect x="413" y="412" width="2" height="13" fill="#33ccff"/>
<rect x="413" y="432" width="2" height="14" fill="#33ccff"/>
<rect x="422" y="445" width="5" height="2" fill="#33ccff"/>
<rect x="434" y="445" width="5" height="2" fill="#33ccff"/>
<rect x="429" y="430" width="2" height="13" fill="#33ccff"/>
<rect x="429" y="450" width="2" height="12" fill="#33ccff"/>
<rect x="438" y="437" width="5" height="2" fill="#33ccff"/>
<rect x="450" y="437" width="5" height="2" fill="#33ccff"/>
<rect x="445" y="422" width="2" height="13" fill="#33ccff"/>
<rect x="445" y="442" width="2" height="12" fill="#33ccff"/>
<rect x="454" y="443" width="5" height="2" fill="#33ccff"/>
<rect x="466" y="443" width="5" height="2" fill="#33ccff"/>
<rect x="461" y="429" width="2" height="12" fill="#33ccff"/>
<rect x="461" y="448" width="2" height="12" fill="#33ccff"/>
<rect x="470" y="443" width="5" height="2" fill="#33ccff"/>
<rect x="482" y="443" width="5" height="2" fill="#33ccff"/>
<rect x="477" y="428" width="2" height="13" fill="#33ccff"/>
<rect x="477" y="448" width="2" height="14" fill="#33ccff"/>
<rect x="486" y="460" width="5" height="2" fill="#33ccff"/>
<rect x="498" y="460" width="5" height="2" fill="#33ccff"/>
<rect x="493" y="446" width="2" height="12" fill="#33ccff"/>
<rect x="493" y="465" width="2" height="12" fill="#33ccff"/>
<rect x="502" y="460" width="5" height="2" fill="#33ccff"/>
<rect x="514" y="460" width="5" height="2" fill="#33ccff"/>
<rect x="509" y="446" width="2" height="12" fill="#33ccff"/>
<rect x="509" y="465" width="2" height="11" fill="#33ccff"/>
<rect x="518" y="445" width="5" height="2" fill="#33ccff"/>
<rect x="530" y="445" width="5" height="2" fill="#33ccff"/>
<rect x="525" y="430" width="2" height="13" fill="#33ccff"/>
<rect x="525" y="450" width="2" height="12" fill="#33ccff"/>
<rect x="534" y="429" width="5" height="2" fill="#33ccff"/>
<rect x="546" y="429" width="5" height="2" fill="#33ccff"/>
<rect x="541" y="414" width="2" height="13" fill="#33ccff"/>
<rect x="541" y="434" width="2" height="13" fill="#33ccff"/>
<rect x="550" y="466" width="5" height="2" fill="#33ccff"/>
<rect x="562" y="466" width="5" height="2" fill="#33ccff"/>
<rect x="557" y="453" width="2" height="11" fill="#33ccff"/>
<rect x="557" y="471" width="2" height="12" fill="#33ccff"/>
<rect x="566" y="443" width="5" height="2" fill="#33ccff"/>
<rect x="578" y="443" width="5" height="2" fill="#33ccff"/>
<rect x="573" y="428" width="2" height="13" fill="#33ccff"/>
<rect x="573" y="448" width="2" height="12" fill="#33ccff"/>
<rect x="582" y="435" width="5" height="2" fill="#33ccff"/>
<rect x="594" y="435" width="5" height="2" fill="#33ccff"/>
<rect x="589" y="420" width="2" height="13" fill="#33ccff"/>
<rect x="589" y="440" width="2" height="12" fill="#33ccff"/>
<rect x="598" y="463" width="5" height="2" fill="#33ccff"/>
<rect x="610" y="463" width="5" height="2" fill="#33ccff"/>
<rect x="605" y="449" width="2" height="12" fill="#33ccff"/>
<rect x="605" y="468" width="2" height="11" fill="#33ccff"/>
<rect x="614" y="461" width="4" height="2" fill="#33ccff"/>
<rect x="625" y="461" width="5" height="2" fill="#33ccff"/>
<rect x="620" y="448" width="2" height="11" fill="#33ccff"/>
<rect x="620" y="466" width="2" height="12" fill="#33ccff"/>
<rect x="629" y="436" width="5" height="2" fill="#33ccff"/>
<rect x="641" y="436" width="5" height="2" fill="#33ccff"/>
<rect x="636" y="422" width="2" height="12" fill="#33ccff"/>
<rect x="636" y="441" width="2" height="11" fill="#33ccff"/>
<rect x="645" y="422" width="5" height="2" fill="#33ccff"/>
<rect x="657" y="422" width="5" height="2" fill="#33ccff"/>
<rect x="652" y="408" width="2" height="12" fill="#33ccff"/>
<rect x="652" y="427" width="2" height="12" fill="#33ccff"/>
<rect x="661" y="442" width="5" height="2" fill="#33ccff"/>
<rect x="673" y="442" width="5" height="2" fill="#33ccff"/>
<rect x="668" y="427" width="2" height="13" fill="#33ccff"/>
<rect x="668" y="447" width="2" height="12" fill="#33ccff"/>
<rect x="677" y="453" width="5" height="2" fill="#33ccff"/>
<rect x="689" y="453" width="5" height="2" fill="#33ccff"/>
<rect x="684" y="440" width="2" height="11" fill="#33ccff"/>
<rect x="684" y="458" width="2" height="12" fill="#33ccff"/>
<rect x="693" y="399" width="5" height="2" fill="#33ccff"/>
<rect x="705" y="399" width="5" height="2" fill="#33ccff"/>
<rect x="700" y="384" width="2" height="13" fill="#33ccff"/>
<rect x="700" y="404" width="2" height="14" fill="#33ccff"/>
<rect x="709" y="394" width="5" height="2" fill="#33ccff"/>
<rect x="721" y="394" width="5" height="2" fill="#33ccff"/>
<rect x="716" y="378" width="2" height="14" fill="#33ccff"/>
<rect x="716" y="399" width="2" height="14" fill="#33ccff"/>
<rect x="725" y="434" width="5" height="2" fill="#33ccff"/>
<rect x="737" y="434" width="5" height="2" fill="#33ccff"/>
<rect x="732" y="420" width="2" height="12" fill="#33ccff"/>
<rect x="732" y="439" width="2" height="13" fill="#33ccff"/>
<rect x="741" y="460" width="5" height="2" fill="#33ccff"/>
<rect x="753" y="460" width="5" height="2" fill="#33ccff"/>
<rect x="748" y="447" width="2" height="11" fill="#33ccff"/>
<rect x="748" y="465" width="2" height="12" fill="#33ccff"/>
<rect x="757" y="449" width="5" height="2" fill="#33ccff"/>
<rect x="769" y="449" width="5" height="2" fill="#33ccff"/>
<rect x="764" y="435" width="2" height="12" fill="#33ccff"/>
<rect x="764" y="454" width="2" height="12" fill="#33ccff"/>
<rect x="773" y="420" width="5" height="2" fill="#33ccff"/>
<rect x="785" y="420" width="5" height="2" fill="#33ccff"/>
<rect x="780" y="405" width="2" height="13" fill="#33ccff"/>
<rect x="780" y="425" width="2" height="13" fill="#33ccff"/>
<rect x="789" y="428" width="5" height="2" fill="#33ccff"/>
<rect x="801" y="428" width="5" height="2" fill="#33ccff"/>
<rect x="796" y="412" width="2" height="14" fill="#33ccff"/>
<rect x="796" y="433" width="2" height="13" fill="#33ccff"/>
<rect x="805" y="437" width="5" height="2" fill="#33ccff"/>
<rect x="817" y="437" width="5" height="2" fill="#33ccff"/>
<rect x="812" y="422" width="2" height="13" fill="#33ccff"/>
<rect x="812" y="442" width="2" height="13" fill="#33ccff"/>
<rect x="821" y="464" width="5" height="2" fill="#33ccff"/>
<rect x="833" y="464" width="5" height="2" fill="#33ccff"/>
<rect x="828" y="451" width="2" height="11" fill="#33ccff"/>
<rect x="828" y="469" width="2" height="11" fill="#33ccff"/>
<rect x="837" y="494" width="5" height="2" fill="#33ccff"/>
<rect x="849" y="494" width="5" height="2" fill="#33ccff"/>
<rect x="844" y="483" width="2" height="9" fill="#33ccff"/>
<rect x="844" y="499" width="2" height="9" fill="#33ccff"/>
<rect x="853" y="432" width="5" height="2" fill="#33ccff"/>
<rect x="865" y="432" width="5" height="2" fill="#33ccff"/>
<rect x="860" y="415" width="2" height="15" fill="#33ccff"/>
<rect x="860" y="437" width="2" height="14" fill="#33ccff"/>
<rect x="869" y="486" width="5" height="2" fill="#33ccff"/>
<rect x="881" y="486" width="5" height="2" fill="#33ccff"/>
<rect x="876" y="471" width="2" height="13" fill="#33ccff"/>
<rect x="876" y="491" width="2" height="13" fill="#33ccff"/>
<rect x="885" y="446" width="5" height="2" fill="#33ccff"/>
<rect x="897" y="446" width="5" height="2" fill="#33ccff"/>
<rect x="892" y="430" width="2" height="14" fill="#33ccff"/>
<rect x="892" y="451" width="2" height="15" fill="#33ccff"/>
<rect x="901" y="433" width="4" height="2" fill="#33ccff"/>
<rect x="912" y="433" width="5" height="2" fill="#33ccff"/>
<rect x="907" y="416" width="2" height="15" fill="#33ccff"/>
<rect x="907" y="438" width="2" height="14" fill="#33ccff"/>
<rect x="916" y="436" width="5" height="2" fill="#33ccff"/>
<rect x="928" y="436" width="5" height="2" fill="#33ccff"/>
<rect x="923" y="418" width="2" height="16" fill="#33ccff"/>
<rect x="923" y="441" width="2" height="16" fill="#33ccff"/>
<rect x="932" y="448" width="5" height="2" fill="#33ccff"/>
<rect x="944" y="448" width="5" height="2" fill="#33ccff"/>
<rect x="939" y="431" width="2" height="15" fill="#33ccff"/>
<rect x="939" y="453" width="2" height="15" fill="#33ccff"/>
<rect x="948" y="437" width="5" height="2" fill="#33ccff"/>
<rect x="960" y="437" width="5" height="2" fill="#33ccff"/>
<rect x="955" y="419" width="2" height="16" fill="#33ccff"/>
<rect x="955" y="442" width="2" height="15" fill="#33ccff"/>
<rect x="964" y="456" width="5" height="2" fill="#33ccff"/>
<rect x="976" y="456" width="5" height="2" fill="#33ccff"/>
<rect x="971" y="439" width="2" height="15" fill="#33ccff"/>
<rect x="971" y="461" width="2" height="14" fill="#33ccff"/>
<rect x="980" y="472" width="5" height="2" fill="#33ccff"/>
<rect x="992" y="472" width="5" height="2" fill="#33ccff"/>
<rect x="987" y="455" width="2" height="15" fill="#33ccff"/>
<rect x="987" y="477" width="2" height="15" fill="#33ccff"/>
<rect x="996" y="453" width="5" height="2" fill="#33ccff"/>
<rect x="1008" y="453" width="5" height="2" fill="#33ccff"/>
<rect x="1003" y="434" width="2" height="17" fill="#33ccff"/>
<rect x="1003" y="458" width="2" height="17" fill="#33ccff"/>
<rect x="1012" y="428" width="5" height="2" fill="#33ccff"/>
<rect x="1024" y="428" width="5" height="2" fill="#33ccff"/>
<rect x="1019" y="407" width="2" height="19" fill="#33ccff"/>
<rect x="1019" y="433" width="2" height="18" fill="#33ccff"/>
<rect x="1028" y="397" width="5" height="2" fill="#33ccff"/>
<rect x="1040" y="397" width="5" height="2" fill="#33ccff"/>
<rect x="1035" y="373" width="2" height="22" fill="#33ccff"/>
<rect x="1035" y="402" width="2" height="23" fill="#33ccff"/>
<rect x="1044" y="362" width="5" height="2" fill="#33ccff"/>
<rect x="1056" y="362" width="5" height="2" fill="#33ccff"/>
<rect x="1051" y="331" width="2" height="29" fill="#33ccff"/>
<rect x="1051" y="367" width="2" height="28" fill="#33ccff"/>
<rect x="1060" y="691" width="5" height="2" fill="#33ccff"/>
<rect x="1072" y="691" width="5" height="2" fill="#33ccff"/>
<path fill="#000" d="M127 362h1v1h-1zM126 363h2v1h-2zM126 364h3v1h-3zM125 365h4v1h-4zM125 366h5v1h-5zM124 367h6v1h-6zM124 368h7v1h-7zM123 369h8v1h-8zM143 382h1v1h-1zM142 383h2v1h-2zM142 384h3v1h-3zM141 385h4v1h-4zM141 386h5v1h-5zM140 387h6v1h-6zM140 388h7v1h-7zM139 389h8v1h-8zM159 372h1v1h-1zM158 373h2v1h-2zM158 374h3v1h-3zM157 375h4v1h-4zM157 376h5v1h-5zM156 377h6v1h-6zM156 378h7v1h-7zM155 379h8v1h-8zM175 370h1v1h-1zM174 371h2v1h-2zM174 372h3v1h-3zM173 373h4v1h-4zM173 374h5v1h-5zM172 375h6v1h-6zM172 376h7v1h-7zM171 377h8v1h-8zM191 442h1v1h-1zM190 443h2v1h-2zM190 444h3v1h-3zM189 445h4v1h-4zM189 446h5v1h-5zM188 447h6v1h-6zM188 448h7v1h-7zM187 449h8v1h-8zM207 420h1v1h-1zM206 421h2v1h-2zM206 422h3v1h-3zM205 423h4v1h-4zM205 424h5v1h-5zM204 425h6v1h-6zM204 426h7v1h-7zM203 427h8v1h-8zM223 453h1v1h-1zM222 454h2v1h-2zM222 455h3v1h-3zM221 456h4v1h-4zM221 457h5v1h-5zM220 458h6v1h-6zM220 459h7v1h-7zM219 460h8v1h-8zM239 416h1v1h-1zM238 417h2v1h-2zM238 418h3v1h-3zM237 419h4v1h-4zM237 420h5v1h-5zM236 421h6v1h-6zM236 422h7v1h-7zM235 423h8v1h-8zM255 453h1v1h-1zM254 454h2v1h-2zM254 455h3v1h-3zM253 456h4v1h-4zM253 457h5v1h-5zM252 458h6v1h-6zM252 459h7v1h-7zM251 460h8v1h-8zM271 428h1v1h-1zM270 429h2v1h-2zM270 430h3v1h-3zM269 431h4v1h-4zM269 432h5v1h-5zM268 433h6v1h-6zM268 434h7v1h-7zM267 435h8v1h-8zM287 411h1v1h-1zM286 412h2v1h-2zM286 413h3v1h-3zM285 414h4v1h-4zM285 415h5v1h-5zM284 416h6v1h-6zM284 417h7v1h-7zM283 418h8v1h-8zM303 443h1v1h-1zM302 444h2v1h-2zM302 445h3v1h-3zM301 446h4v1h-4zM301 447h5v1h-5zM300 448h6v1h-6zM300 449h7v1h-7zM299 450h8v1h-8zM319 406h1v1h-1zM318 407h2v1h-2zM318 408h3v1h-3zM317 409h4v1h-4zM317 410h5v1h-5zM316 411h6v1h-6zM316 412h7v1h-7zM315 413h8v1h-8zM334 444h1v1h-1zM333 445h2v1h-2zM333 446h3v1h-3zM332 447h4v1h-4zM332 448h5v1h-5zM331 449h6v1h-6zM331 450h7v1h-7zM330 451h8v1h-8zM350 432h1v1h-1zM349 433h2v1h-2zM349 434h3v1h-3zM348 435h4v1h-4zM348 436h5v1h-5zM347 437h6v1h-6zM347 438h7v1h-7zM346 439h8v1h-8zM366 445h1v1h-1zM365 446h2v1h-2zM365 447h3v1h-3zM364 448h4v1h-4zM364 449h5v1h-5zM363 450h6v1h-6zM363 451h7v1h-7zM362 452h8v1h-8zM382 452h1v1h-1zM381 453h2v1h-2zM381 454h3v1h-3zM380 455h4v1h-4zM380 456h5v1h-5zM379 457h6v1h-6zM379 458h7v1h-7zM378 459h8v1h-8zM398 426h1v1h-1zM397 427h2v1h-2zM397 428h3v1h-3zM396 429h4v1h-4zM396 430h5v1h-5zM395 431h6v1h-6zM395 432h7v1h-7zM394 433h8v1h-8zM414 424h1v1h-1zM413 425h2v1h-2zM413 426h3v1h-3zM412 427h4v1h-4zM412 428h5v1h-5zM411 429h6v1h-6zM411 430h7v1h-7zM410 431h8v1h-8zM430 442h1v1h-1zM429 443h2v1h-2zM429 444h3v1h-3zM428 445h4v1h-4zM428 446h5v1h-5zM427 447h6v1h-6zM427 448h7v1h-7zM426 449h8v1h-8zM446 434h1v1h-1zM445 435h2v1h-2zM445 436h3v1h-3zM444 437h4v1h-4zM444 438h5v1h-5zM443 439h6v1h-6zM443 440h7v1h-7zM442 441h8v1h-8zM462 440h1v1h-1zM461 441h2v1h-2zM461 442h3v1h-3zM460 443h4v1h-4zM460 444h5v1h-5zM459 445h6v1h-6zM459 446h7v1h-7zM458 447h8v1h-8zM478 440h1v1h-1zM477 441h2v1h-2zM477 442h3v1h-3zM476 443h4v1h-4zM476 444h5v1h-5zM475 445h6v1h-6zM475 446h7v1h-7zM474 447h8v1h-8zM494 457h1v1h-1zM493 458h2v1h-2zM493 459h3v1h-3zM492 460h4v1h-4zM492 461h5v1h-5zM491 462h6v1h-6zM491 463h7v1h-7zM490 464h8v1h-8zM510 457h1v1h-1zM509 458h2v1h-2zM509 459h3v1h-3zM508 460h4v1h-4zM508 461h5v1h-5zM507 462h6v1h-6zM507 463h7v1h-7zM506 464h8v1h-8zM526 442h1v1h-1zM525 443h2v1h-2zM525 444h3v1h-3zM524 445h4v1h-4zM524 446h5v1h-5zM523 447h6v1h-6zM523 448h7v1h-7zM522 449h8v1h-8zM542 426h1v1h-1zM541 427h2v1h-2zM541 428h3v1h-3zM540 429h4v1h-4zM540 430h5v1h-5zM539 431h6v1h-6zM539 432h7v1h-7zM538 433h8v1h-8zM558 463h1v1h-1zM557 464h2v1h-2zM557 465h3v1h-3zM556 466h4v1h-4zM556 467h5v1h-5zM555 468h6v1h-6zM555 469h7v1h-7zM554 470h8v1h-8zM574 440h1v1h-1zM573 441h2v1h-2zM573 442h3v1h-3zM572 443h4v1h-4zM572 444h5v1h-5zM571 445h6v1h-6zM571 446h7v1h-7zM570 447h8v1h-8zM590 432h1v1h-1zM589 433h2v1h-2zM589 434h3v1h-3zM588 435h4v1h-4zM588 436h5v1h-5zM587 437h6v1h-6zM587 438h7v1h-7zM586 439h8v1h-8zM606 460h1v1h-1zM605 461h2v1h-2zM605 462h3v1h-3zM604 463h4v1h-4zM604 464h5v1h-5zM603 465h6v1h-6zM603 466h7v1h-7zM602 467h8v1h-8zM621 458h1v1h-1zM620 459h2v1h-2zM620 460h3v1h-3zM619 461h4v1h-4zM619 462h5v1h-5zM618 463h6v1h-6zM618 464h7v1h-7zM617 465h8v1h-8zM637 433h1v1h-1zM636 434h2v1h-2zM636 435h3v1h-3zM635 436h4v1h-4zM635 437h5v1h-5zM634 438h6v1h-6zM634 439h7v1h-7zM633 440h8v1h-8zM653 419h1v1h-1zM652 420h2v1h-2zM652 421h3v1h-3zM651 422h4v1h-4zM651 423h5v1h-5zM650 424h6v1h-6zM650 425h7v1h-7zM649 426h8v1h-8zM669 439h1v1h-1zM668 440h2v1h-2zM668 441h3v1h-3zM667 442h4v1h-4zM667 443h5v1h-5zM666 444h6v1h-6zM666 445h7v1h-7zM665 446h8v1h-8zM685 450h1v1h-1zM684 451h2v1h-2zM684 452h3v1h-3zM683 453h4v1h-4zM683 454h5v1h-5zM682 455h6v1h-6zM682 456h7v1h-7zM681 457h8v1h-8zM701 396h1v1h-1zM700 397h2v1h-2zM700 398h3v1h-3zM699 399h4v1h-4zM699 400h5v1h-5zM698 401h6v1h-6zM698 402h7v1h-7zM697 403h8v1h-8zM717 391h1v1h-1zM716 392h2v1h-2zM716 393h3v1h-3zM715 394h4v1h-4zM715 395h5v1h-5zM714 396h6v1h-6zM714 397h7v1h-7zM713 398h8v1h-8zM733 431h1v1h-1zM732 432h2v1h-2zM732 433h3v1h-3zM731 434h4v1h-4zM731 435h5v1h-5zM730 436h6v1h-6zM730 437h7v1h-7zM729 438h8v1h-8zM749 457h1v1h-1zM748 458h2v1h-2zM748 459h3v1h-3zM747 460h4v1h-4zM747 461h5v1h-5zM746 462h6v1h-6zM746 463h7v1h-7zM745 464h8v1h-8zM765 446h1v1h-1zM764 447h2v1h-2zM764 448h3v1h-3zM763 449h4v1h-4zM763 450h5v1h-5zM762 451h6v1h-6zM762 452h7v1h-7zM761 453h8v1h-8zM781 417h1v1h-1zM780 418h2v1h-2zM780 419h3v1h-3zM779 420h4v1h-4zM779 421h5v1h-5zM778 422h6v1h-6zM778 423h7v1h-7zM777 424h8v1h-8zM797 425h1v1h-1zM796 426h2v1h-2zM796 427h3v1h-3zM795 428h4v1h-4zM795 429h5v1h-5zM794 430h6v1h-6zM794 431h7v1h-7zM793 432h8v1h-8zM813 434h1v1h-1zM812 435h2v1h-2zM812 436h3v1h-3zM811 437h4v1h-4zM811 438h5v1h-5zM810 439h6v1h-6zM810 440h7v1h-7zM809 441h8v1h-8zM829 461h1v1h-1zM828 462h2v1h-2zM828 463h3v1h-3zM827 464h4v1h-4zM827 465h5v1h-5zM826 466h6v1h-6zM826 467h7v1h-7zM825 468h8v1h-8zM845 491h1v1h-1zM844 492h2v1h-2zM844 493h3v1h-3zM843 494h4v1h-4zM843 495h5v1h-5zM842 496h6v1h-6zM842 497h7v1h-7zM841 498h8v1h-8zM861 429h1v1h-1zM860 430h2v1h-2zM860 431h3v1h-3zM859 432h4v1h-4zM859 433h5v1h-5zM858 434h6v1h-6zM858 435h7v1h-7zM857 436h8v1h-8zM877 483h1v1h-1zM876 484h2v1h-2zM876 485h3v1h-3zM875 486h4v1h-4zM875 487h5v1h-5zM874 488h6v1h-6zM874 489h7v1h-7zM873 490h8v1h-8zM893 443h1v1h-1zM892 444h2v1h-2zM892 445h3v1h-3zM891 446h4v1h-4zM891 447h5v1h-5zM890 448h6v1h-6zM890 449h7v1h-7zM889 450h8v1h-8zM908 430h1v1h-1zM907 431h2v1h-2zM907 432h3v1h-3zM906 433h4v1h-4zM906 434h5v1h-5zM905 435h6v1h-6zM905 436h7v1h-7zM904 437h8v1h-8zM924 433h1v1h-1zM923 434h2v1h-2zM923 435h3v1h-3zM922 436h4v1h-4zM922 437h5v1h-5zM921 438h6v1h-6zM921 439h7v1h-7zM920 440h8v1h-8zM940 445h1v1h-1zM939 446h2v1h-2zM939 447h3v1h-3zM938 448h4v1h-4zM938 449h5v1h-5zM937 450h6v1h-6zM937 451h7v1h-7zM936 452h8v1h-8zM956 434h1v1h-1zM955 435h2v1h-2zM955 436h3v1h-3zM954 437h4v1h-4zM954 438h5v1h-5zM953 439h6v1h-6zM953 440h7v1h-7zM952 441h8v1h-8zM972 453h1v1h-1zM971 454h2v1h-2zM971 455h3v1h-3zM970 456h4v1h-4zM970 457h5v1h-5zM969 458h6v1h-6zM969 459h7v1h-7zM968 460h8v1h-8zM988 469h1v1h-1zM987 470h2v1h-2zM987 471h3v1h-3zM986 472h4v1h-4zM986 473h5v1h-5zM985 474h6v1h-6zM985 475h7v1h-7zM984 476h8v1h-8zM1004 450h1v1h-1zM1003 451h2v1h-2zM1003 452h3v1h-3zM1002 453h4v1h-4zM1002 454h5v1h-5zM1001 455h6v1h-6zM1001 456h7v1h-7zM1000 457h8v1h-8zM1020 425h1v1h-1zM1019 426h2v1h-2zM1019 427h3v1h-3zM1018 428h4v1h-4zM1018 429h5v1h-5zM1017 430h6v1h-6zM1017 431h7v1h-7zM1016 432h8v1h-8zM1036 394h1v1h-1zM1035 395h2v1h-2zM1035 396h3v1h-3zM1034 397h4v1h-4zM1034 398h5v1h-5zM1033 399h6v1h-6zM1033 400h7v1h-7zM1032 401h8v1h-8zM1052 359h1v1h-1zM1051 360h2v1h-2zM1051 361h3v1h-3zM1050 362h4v1h-4zM1050 363h5v1h-5zM1049 364h6v1h-6zM1049 365h7v1h-7zM1048 366h8v1h-8zM1068 688h1v1h-1zM1067 689h2v1h-2zM1067 690h3v1h-3zM1066 691h4v1h-4zM1066 692h5v1h-5zM1065 693h6v1h-6zM1065 694h7v1h-7zM1064 695h8v1h-8zM770 189h1v1h-1zM769 190h2v1h-2zM769 191h3v1h-3zM768 192h4v1h-4zM768 193h5v1h-5zM767 194h6v1h-6zM767 195h7v1h-7zM766 196h8v1h-8z"/>
</g>
<text stroke="#000" stroke-width="0.3" stroke-linejoin="round"><tspan x="57.13" y="266.1" font-size="30.7" textLength="56.21" lengthAdjust="spacingAndGlyphs">0.45</tspan></text>
<text stroke="#000" stroke-width="0.3" stroke-linejoin="round"><tspan x="72.89" y="315.1" font-size="30.7" textLength="40.06" lengthAdjust="spacingAndGlyphs">0.4</tspan></text>
<text stroke="#000" stroke-width="0.3" stroke-linejoin="round"><tspan x="57.13" y="364.1" font-size="30.7" textLength="56.21" lengthAdjust="spacingAndGlyphs">0.35</tspan></text>
<text stroke="#000" stroke-width="0.3" stroke-linejoin="round"><tspan x="73.32" y="413.1" font-size="30.7" textLength="40.06" lengthAdjust="spacingAndGlyphs">0.3</tspan></text>
<text stroke="#000" stroke-width="0.3" stroke-linejoin="round"><tspan x="57.13" y="461.1" font-size="30.7" textLength="56.21" lengthAdjust="spacingAndGlyphs">0.25</tspan></text>
<text stroke="#000" stroke-width="0.3" stroke-linejoin="round"><tspan x="73.54" y="510.1" font-size="30.7" textLength="40.05" lengthAdjust="spacingAndGlyphs">0.2</tspan></text>
<text stroke="#000" stroke-width="0.3" stroke-linejoin="round"><tspan x="57.13" y="559.1" font-size="30.7" textLength="56.21" lengthAdjust="spacingAndGlyphs">0.15</tspan></text>
<text stroke="#000" stroke-width="0.3" stroke-linejoin="round"><tspan x="74.97" y="608.1" font-size="30.7" textLength="40.05" lengthAdjust="spacingAndGlyphs">0.1</tspan></text>
<text stroke="#000" stroke-width="0.3" stroke-linejoin="round"><tspan x="57.13" y="657.1" font-size="30.7" textLength="56.21" lengthAdjust="spacingAndGlyphs">0.05</tspan></text>
<text stroke="#000" stroke-width="0.3" stroke-linejoin="round"><tspan x="97.45" y="705.1" font-size="30.7" textLength="15.80" lengthAdjust="spacingAndGlyphs">0</tspan></text>
<text stroke="#000" stroke-width="0.3" stroke-linejoin="round"><tspan x="175.02" y="723.05" font-size="30.7" textLength="15.80" lengthAdjust="spacingAndGlyphs">5</tspan></text>
<text stroke="#000" stroke-width="0.3" stroke-linejoin="round"><tspan x="246.41" y="723.05" font-size="30.7" textLength="31.97" lengthAdjust="spacingAndGlyphs">10</tspan></text>
<text stroke="#000" stroke-width="0.3" stroke-linejoin="round"><tspan x="325.45" y="723.05" font-size="30.7" textLength="31.97" lengthAdjust="spacingAndGlyphs">15</tspan></text>
<text stroke="#000" stroke-width="0.3" stroke-linejoin="round"><tspan x="405.76" y="723.05" font-size="30.7" textLength="31.98" lengthAdjust="spacingAndGlyphs">20</tspan></text>
<text stroke="#000" stroke-width="0.3" stroke-linejoin="round"><tspan x="485.80" y="723.05" font-size="30.7" textLength="31.98" lengthAdjust="spacingAndGlyphs">25</tspan></text>
<text stroke="#000" stroke-width="0.3" stroke-linejoin="round"><tspan x="565.94" y="723.05" font-size="30.7" textLength="31.98" lengthAdjust="spacingAndGlyphs">30</tspan></text>
<text stroke="#000" stroke-width="0.3" stroke-linejoin="round"><tspan x="644.98" y="723.05" font-size="30.7" textLength="31.98" lengthAdjust="spacingAndGlyphs">35</tspan></text>
<text stroke="#000" stroke-width="0.3" stroke-linejoin="round"><tspan x="725.16" y="723.05" font-size="30.7" textLength="31.99" lengthAdjust="spacingAndGlyphs">40</tspan></text>
<text stroke="#000" stroke-width="0.3" stroke-linejoin="round"><tspan x="805.19" y="723.05" font-size="30.7" textLength="31.99" lengthAdjust="spacingAndGlyphs">45</tspan></text>
<text stroke="#000" stroke-width="0.3" stroke-linejoin="round"><tspan x="883.91" y="723.05" font-size="30.7" textLength="31.98" lengthAdjust="spacingAndGlyphs">50</tspan></text>
<text stroke="#000" stroke-width="0.3" stroke-linejoin="round"><tspan x="963.94" y="723.05" font-size="30.7" textLength="31.98" lengthAdjust="spacingAndGlyphs">55</tspan></text>
<text stroke="#000" stroke-width="0.3" stroke-linejoin="round"><tspan x="1043.76" y="723.05" font-size="30.7" textLength="31.98" lengthAdjust="spacingAndGlyphs">60</tspan></text>
<text stroke="#000" stroke-width="0.3" stroke-linejoin="round"><tspan x="1027.27" y="755.4" font-size="29.6" textLength="51.09" lengthAdjust="spacingAndGlyphs">Cell</tspan></text>
<g transform="translate(51.1,393.2) rotate(-90)">
<text stroke="#000" stroke-width="0.3" stroke-linejoin="round"><tspan x="-2.24" y="0" font-size="29.6" textLength="163.68" lengthAdjust="spacingAndGlyphs">Hit efficiency</tspan></text>
</g>
<circle cx="156.5" cy="193.4" r="4.65" fill="#000"/>
<text xml:space="preserve" stroke="#000" stroke-width="0.25" stroke-linejoin="round"><tspan x="193.31" y="201.7" font-size="22.5" textLength="176.12" lengthAdjust="spacingAndGlyphs">Mean hit  eff: 0.34</tspan></text>
<rect class="ce" x="420.5" y="188.5" width="9" height="9" fill="none" stroke="#000" stroke-width="1"/>
<text stroke="#000" stroke-width="0.25" stroke-linejoin="round"><tspan x="461.99" y="201.7" font-size="22.5" textLength="251.25" lengthAdjust="spacingAndGlyphs">Mean in-band hit eff: 0.31</tspan></text>
<text stroke="#000" stroke-width="0.25" stroke-linejoin="round"><tspan x="807.09" y="201.7" font-size="22.5" textLength="191.15" lengthAdjust="spacingAndGlyphs">Mean reco eff: 0.26</tspan></text>
<g class="ce">
<rect x="65" y="21" width="1075" height="137" fill="#000"/>
<rect x="59" y="15" width="1078" height="140" fill="#000"/>
<rect x="60" y="16" width="1076" height="138" fill="#fff"/>
</g>
<text stroke="#000" stroke-width="0.6" stroke-linejoin="round"><tspan x="113.24" y="63.85" font-size="36.6" textLength="65.76" lengthAdjust="spacingAndGlyphs">Run</tspan> <tspan x="188.95" y="63.85" font-size="37.6" textLength="80.76" lengthAdjust="spacingAndGlyphs">5991</tspan> <tspan x="389.18" y="63.85" font-size="37.4" textLength="104.40" lengthAdjust="spacingAndGlyphs">SL1L1</tspan></text>
<text stroke="#000" stroke-width="0.6" stroke-linejoin="round"><tspan x="113.53" y="129.85" font-size="37.4" textLength="48.31" lengthAdjust="spacingAndGlyphs">HV</tspan> <tspan x="173.67" y="129.85" font-size="23.8" textLength="19.63" lengthAdjust="spacingAndGlyphs" stroke-width="1.1">=</tspan> <tspan x="204.16" y="129.85" font-size="37.6" textLength="79.66" lengthAdjust="spacingAndGlyphs">3400</tspan> <tspan x="295.21" y="129.85" font-size="37.4" textLength="33.22" lengthAdjust="spacingAndGlyphs">V,</tspan> <tspan x="338.44" y="129.85" font-size="37" textLength="75.76" lengthAdjust="spacingAndGlyphs">FEth</tspan> <tspan x="424.27" y="129.85" font-size="23.8" textLength="20.83" lengthAdjust="spacingAndGlyphs" stroke-width="1.1">=</tspan> <tspan x="455.25" y="129.85" font-size="37.6" textLength="40.09" lengthAdjust="spacingAndGlyphs">30</tspan> <tspan x="505.76" y="129.85" font-size="36.5" textLength="63.47" lengthAdjust="spacingAndGlyphs">mV,</tspan> <tspan x="579.80" y="129.85" font-size="35.8" textLength="112.85" lengthAdjust="spacingAndGlyphs">Source</tspan> <tspan x="703.50" y="129.85" font-size="37.4" textLength="71.40" lengthAdjust="spacingAndGlyphs">OFF</tspan></text>
</svg></body></html>
